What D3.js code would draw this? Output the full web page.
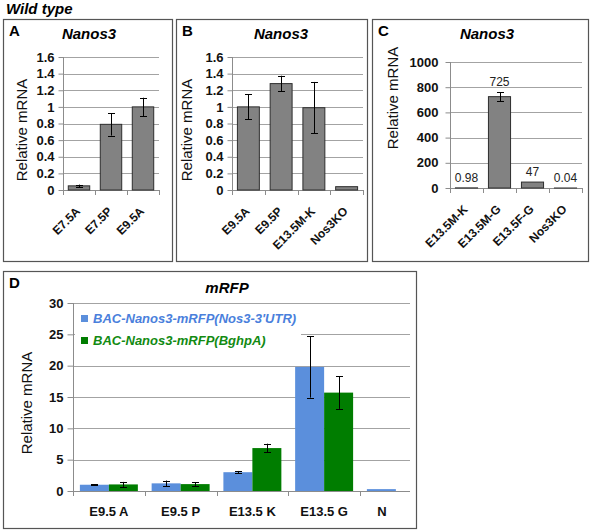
<!DOCTYPE html>
<html><head><meta charset="utf-8">
<script src="https://cdn.jsdelivr.net/npm/d3@7"></script>
<style>
html,body{margin:0;padding:0;background:#fff;}
svg{display:block;font-family:"Liberation Sans",Arial,sans-serif;}
</style></head>
<body>
<svg id="chart" width="590" height="531"></svg>
<script>
// ---------- data ----------
const aCategories = ["E7.5A", "E7.5P", "E9.5A"];
const aValues = [0.05, 0.79, 1.0];
const aErrors = [0.015, 0.135, 0.11];
const abTicks = [0, 0.2, 0.4, 0.6, 0.8, 1, 1.2, 1.4, 1.6];

const bCategories = ["E9.5A", "E9.5P", "E13.5M-K", "Nos3KO"];
const bValues = [1.0, 1.28, 0.99, 0.04];
const bErrors = [0.15, 0.095, 0.31, 0];

const cCategories = ["E13.5M-K", "E13.5M-G", "E13.5F-G", "Nos3KO"];
const cValues = [0.98, 725, 47, 0.04];
const cErrors = [0, 36, 0, 0];
const cLabels = ["0.98", "725", "47", "0.04"];
const cTicks = [0, 200, 400, 600, 800, 1000];

const dCategories = ["E9.5 A", "E9.5 P", "E13.5 K", "E13.5 G", "N"];
const dSeriesNames = ["BAC-Nanos3-mRFP(Nos3-3'UTR)", "BAC-Nanos3-mRFP(BghpA)"];
const dUTR = [1.0, 1.22, 3.0, 19.8, 0.3];
const dUTRErr = [0.05, 0.45, 0.2, 4.9, 0];
const dBghpA = [1.05, 1.1, 6.85, 15.7, null];
const dBghpAErr = [0.4, 0.3, 0.7, 2.6, null];
const dTicks = [0, 5, 10, 15, 20, 25, 30];

const svg = d3.select("#chart");
const GRID = "#a3a3a3", AXIS = "#8c8c8c", BOX = "#555";
const fmt = v => String(+v.toFixed(2));

svg.append("text").attr("x", 6).attr("y", 14)
  .attr("font-size", 15).attr("font-weight", "bold").attr("font-style", "italic")
  .text("Wild type");

function panelBox(x0, y0, x1, y1, letter, title, titleX, titleY) {
  svg.append("rect").attr("x", x0 + 0.5).attr("y", y0 + 0.5)
    .attr("width", x1 - x0).attr("height", y1 - y0)
    .attr("fill", "none").attr("stroke", BOX).attr("stroke-width", 1.2);
  svg.append("text").attr("x", x0 + 6).attr("y", y0 + 17)
    .attr("font-size", 15).attr("font-weight", "bold").text(letter);
  svg.append("text").attr("x", titleX).attr("y", titleY).attr("text-anchor", "middle")
    .attr("font-size", 15).attr("font-weight", "bold").attr("font-style", "italic").text(title);
}

function yLabel(x, y) {
  svg.append("text").attr("transform", `translate(${x},${y}) rotate(-90)`)
    .attr("text-anchor", "middle").attr("font-size", 15).attr("fill", "#111")
    .text("Relative mRNA");
}

function simplePanel(o) {
  const g = svg.append("g");
  const y = d3.scaleLinear().domain([0, o.ticks[o.ticks.length - 1]]).range([o.yb, o.yt]);
  const x = d3.scaleBand().domain(o.cats).range([o.xl, o.xr]).padding(0);
  // grid
  g.selectAll(".grid").data(o.ticks.filter(t => t > 0)).join("line")
    .attr("x1", o.xl).attr("x2", o.xr)
    .attr("y1", d => Math.round(y(d)) + 0.5).attr("y2", d => Math.round(y(d)) + 0.5)
    .attr("stroke", GRID);
  // y axis
  const ya = d3.axisLeft(y).tickValues(o.ticks).tickSize(5).tickFormat(fmt).tickPadding(o.tickPad);
  const yg = g.append("g").attr("transform", `translate(${o.xl + 0.5},0)`).call(ya);
  yg.select(".domain").attr("stroke", AXIS).attr("d", `M0,${o.yt}V${o.yb + 5}`);
  yg.selectAll(".tick line").attr("stroke", AXIS);
  yg.selectAll(".tick text").attr("font-size", 13).attr("font-weight", "bold")
    .attr("fill", "#111").attr("font-family", "Liberation Sans, Arial, sans-serif");
  // x axis baseline + boundary ticks
  g.append("line").attr("x1", o.xl).attr("x2", o.xr)
    .attr("y1", Math.round(o.yb) + 0.5).attr("y2", Math.round(o.yb) + 0.5).attr("stroke", AXIS);
  const bounds = o.cats.map(c => x(c)).concat([o.xr]);
  g.selectAll(".xt").data(bounds.slice(1)).join("line")
    .attr("x1", d => Math.round(d) + 0.5).attr("x2", d => Math.round(d) + 0.5)
    .attr("y1", o.yb).attr("y2", o.yb + 5).attr("stroke", AXIS);
  // bars
  const bw = x.bandwidth() * 0.67;
  const idx = o.cats.map((c, i) => i);
  g.selectAll(".bar").data(idx).join("rect")
    .attr("x", i => x(o.cats[i]) + (x.bandwidth() - bw) / 2)
    .attr("width", bw)
    .attr("y", i => y(o.vals[i]))
    .attr("height", i => Math.max(0, y(0) - y(o.vals[i])))
    .attr("fill", "#828282").attr("stroke", "#2e2e2e").attr("stroke-width", 1);
  // error bars
  const eb = idx.filter(i => o.errs[i] > 0);
  eb.forEach(i => {
    const cx = Math.round(x(o.cats[i]) + x.bandwidth() / 2) + 0.5;
    const v = o.vals[i], e = o.errs[i];
    g.append("line").attr("x1", cx).attr("x2", cx).attr("y1", y(v - e)).attr("y2", y(v + e)).attr("stroke", "#000");
    [v - e, v + e].forEach(t => g.append("line").attr("x1", cx - 3.5).attr("x2", cx + 3.5)
      .attr("y1", Math.round(y(t)) + 0.5).attr("y2", Math.round(y(t)) + 0.5).attr("stroke", "#000"));
  });
  // data labels
  if (o.labels) {
    g.selectAll(".dl").data(idx).join("text")
      .attr("x", i => x(o.cats[i]) + x.bandwidth() / 2)
      .attr("y", i => y(o.vals[i] + o.errs[i]) - 6)
      .attr("text-anchor", "middle").attr("font-size", 12).attr("fill", "#222")
      .text(i => o.labels[i]);
  }
  // rotated x labels
  g.selectAll(".xl").data(o.cats).join("text")
    .attr("transform", d => `translate(${x(d) + x.bandwidth() / 2 + o.lx},${o.yb + o.ly}) rotate(-45)`)
    .attr("text-anchor", "end").attr("font-size", 12).attr("font-weight", "bold").attr("fill", "#111")
    .text(d => d);
}

// Panel A
panelBox(3, 19, 172, 261, "A", "Nanos3", 89, 39);
yLabel(27, 130);
simplePanel({cats: aCategories, vals: aValues, errs: aErrors, ticks: abTicks,
  xl: 63, xr: 159, yb: 190, yt: 57, tickPad: 4, lx: 2, ly: 22});

// Panel B
panelBox(176, 19, 367, 261, "B", "Nanos3", 281, 39);
yLabel(192, 130);
simplePanel({cats: bCategories, vals: bValues, errs: bErrors, ticks: abTicks,
  xl: 232, xr: 363, yb: 190, yt: 57, tickPad: 4, lx: 2, ly: 22});

// Panel C
panelBox(372, 19, 588, 261, "C", "Nanos3", 487, 39);
yLabel(398, 98);
simplePanel({cats: cCategories, vals: cValues, errs: cErrors, ticks: cTicks, labels: cLabels,
  xl: 450, xr: 582, yb: 188, yt: 62, tickPad: 7, lx: 2, ly: 22});

// Panel D
(function () {
  const x0 = 3, y0 = 271, x1 = 416, y1 = 528;
  panelBox(x0, y0, x1, y1, "D", "mRFP", 227, 293);
  yLabel(32, 403);
  const xl = 73, clipR = 410, step = 71.75, yb = 491, yt = 303;
  const g = svg.append("g");
  const y = d3.scaleLinear().domain([0, 30]).range([yb, yt]);
  const x = d3.scaleBand().domain(dCategories).range([xl, xl + step * dCategories.length]).padding(0);
  const x1s = d3.scaleBand().domain([0, 1]).range([x.bandwidth() * 0.096, x.bandwidth() * 0.904]);
  g.selectAll(".grid").data(dTicks.filter(t => t > 0)).join("line")
    .attr("x1", xl).attr("x2", clipR)
    .attr("y1", d => Math.round(y(d)) + 0.5).attr("y2", d => Math.round(y(d)) + 0.5).attr("stroke", GRID);
  const ya = d3.axisLeft(y).tickValues(dTicks).tickSize(6).tickPadding(4);
  const yg = g.append("g").attr("transform", `translate(${xl + 0.5},0)`).call(ya);
  yg.select(".domain").attr("stroke", AXIS).attr("d", `M0,${yt}V${yb + 5}`);
  yg.selectAll(".tick line").attr("stroke", AXIS);
  yg.selectAll(".tick text").attr("font-size", 13).attr("font-weight", "bold")
    .attr("fill", "#111").attr("font-family", "Liberation Sans, Arial, sans-serif");
  g.append("line").attr("x1", xl).attr("x2", clipR).attr("y1", yb + 0.5).attr("y2", yb + 0.5).attr("stroke", AXIS);
  const bounds = dCategories.map(c => x(c)).slice(1).filter(b => b < clipR);
  g.selectAll(".xt").data(bounds).join("line")
    .attr("x1", d => Math.round(d) + 0.5).attr("x2", d => Math.round(d) + 0.5)
    .attr("y1", yb).attr("y2", yb + 5).attr("stroke", AXIS);

  const colors = ["#5b8fdc", "#007d00"];
  const series = [[dUTR, dUTRErr], [dBghpA, dBghpAErr]];
  series.forEach(([vals, errs], s) => {
    dCategories.forEach((c, i) => {
      const v = vals[i];
      if (v == null) return;
      const bx = x(c) + x1s(s);
      g.append("rect").attr("x", bx).attr("width", x1s.bandwidth())
        .attr("y", y(v)).attr("height", y(0) - y(v)).attr("fill", colors[s]);
      const e = errs[i];
      if (e > 0) {
        const cx = Math.round(bx + x1s.bandwidth() / 2) + 0.5;
        g.append("line").attr("x1", cx).attr("x2", cx).attr("y1", y(v - e)).attr("y2", y(v + e)).attr("stroke", "#000");
        [v - e, v + e].forEach(t => g.append("line").attr("x1", cx - 3.5).attr("x2", cx + 3.5)
          .attr("y1", Math.round(y(t)) + 0.5).attr("y2", Math.round(y(t)) + 0.5).attr("stroke", "#000"));
      }
    });
  });
  // x labels (centered on visible part of band)
  g.selectAll(".xl").data(dCategories).join("text")
    .attr("x", d => (x(d) + Math.min(x(d) + x.bandwidth(), clipR)) / 2 - (x(d) + x.bandwidth() > clipR ? 3 : 0))
    .attr("y", 516).attr("text-anchor", "middle")
    .attr("font-size", 13).attr("font-weight", "bold").attr("fill", "#111").text(d => d);
  // legend
  const lg = g.append("g");
  lg.append("rect").attr("x", 75).attr("y", 306).attr("width", 226).attr("height", 44).attr("fill", "#fff");
  const legColors = ["#4a7fdc", "#128a12"];
  dSeriesNames.forEach((n, i) => {
    const ly = 318 + i * 22;
    lg.append("rect").attr("x", 81).attr("y", ly - 3).attr("width", 7).attr("height", 7).attr("fill", colors[i]);
    lg.append("text").attr("x", 93).attr("y", ly + 4.5).attr("font-size", 13)
      .attr("font-weight", "bold").attr("font-style", "italic").attr("fill", legColors[i]).text(n);
  });
})();
</script>
</body></html>
